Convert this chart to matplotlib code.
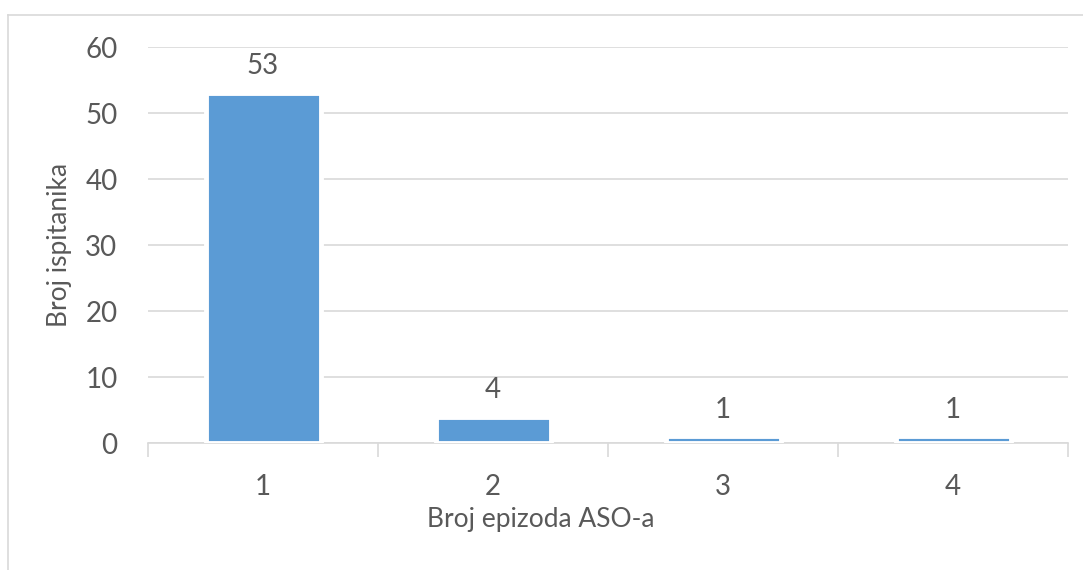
import matplotlib.pyplot as plt
from matplotlib.lines import Line2D

epizode = ['1', '2', '3', '4']
ispitanici = [53, 4, 1, 1]

plt.rcParams['font.family'] = ['Lato', 'DejaVu Sans']
tekst = '#595959'
siva = '#D9D9D9'

fig = plt.figure(figsize=(10.83, 5.70), dpi=100)
ax = fig.add_axes([148 / 1083, 1 - 443 / 570, 920 / 1083, 396 / 570])

x = range(len(epizode))
bars = ax.bar(x, ispitanici, width=0.5, color='#5B9BD5', edgecolor='white',
              linewidth=3.5, zorder=3)
for b, v in zip(bars, ispitanici):
    ax.annotate(str(v), (b.get_x() + b.get_width() / 2, v), xytext=(0, 10),
                textcoords='offset points', ha='center', va='bottom',
                fontsize=20, color=tekst)

ax.set_xlim(-0.5, len(epizode) - 0.5)
ax.set_ylim(0, 60)
ax.set_yticks(range(0, 61, 10))
ax.set_xticks(list(x))
ax.set_xticklabels(epizode)
ax.set_xticks([i - 0.5 for i in range(len(epizode) + 1)], minor=True)
ax.grid(axis='y', color=siva, linewidth=1.2, zorder=0)
for s in ['top', 'right', 'left']:
    ax.spines[s].set_visible(False)
ax.spines['bottom'].set_color(siva)
ax.spines['bottom'].set_linewidth(1.2)
ax.tick_params(axis='x', which='major', length=0, pad=22, labelsize=20, labelcolor=tekst)
ax.tick_params(axis='x', which='minor', length=10, width=1.2, color=siva)
ax.tick_params(axis='y', length=0, pad=22, labelsize=20, labelcolor=tekst)

ax.set_xlabel('Broj epizoda ASO-a', fontsize=19, color=tekst)
ax.xaxis.set_label_coords((541 - 148) / 920, -(520 - 443) / 396)
ax.xaxis.label.set_va('center')
ax.set_ylabel('Broj ispitanika', fontsize=19, color=tekst)
ax.yaxis.set_label_coords(-(148 - 60) / 920, 0.5)
ax.yaxis.label.set_va('center')

# okvir grafikona (vidljivi samo gornji i lijevi rub)
fig.lines.append(Line2D([8 / 1083, 1], [1 - 15 / 570, 1 - 15 / 570],
                        transform=fig.transFigure, color=siva, linewidth=1.2))
fig.lines.append(Line2D([8 / 1083, 8 / 1083], [0, 1 - 15 / 570],
                        transform=fig.transFigure, color=siva, linewidth=1.2))

fig.savefig('out.png', dpi=100)
